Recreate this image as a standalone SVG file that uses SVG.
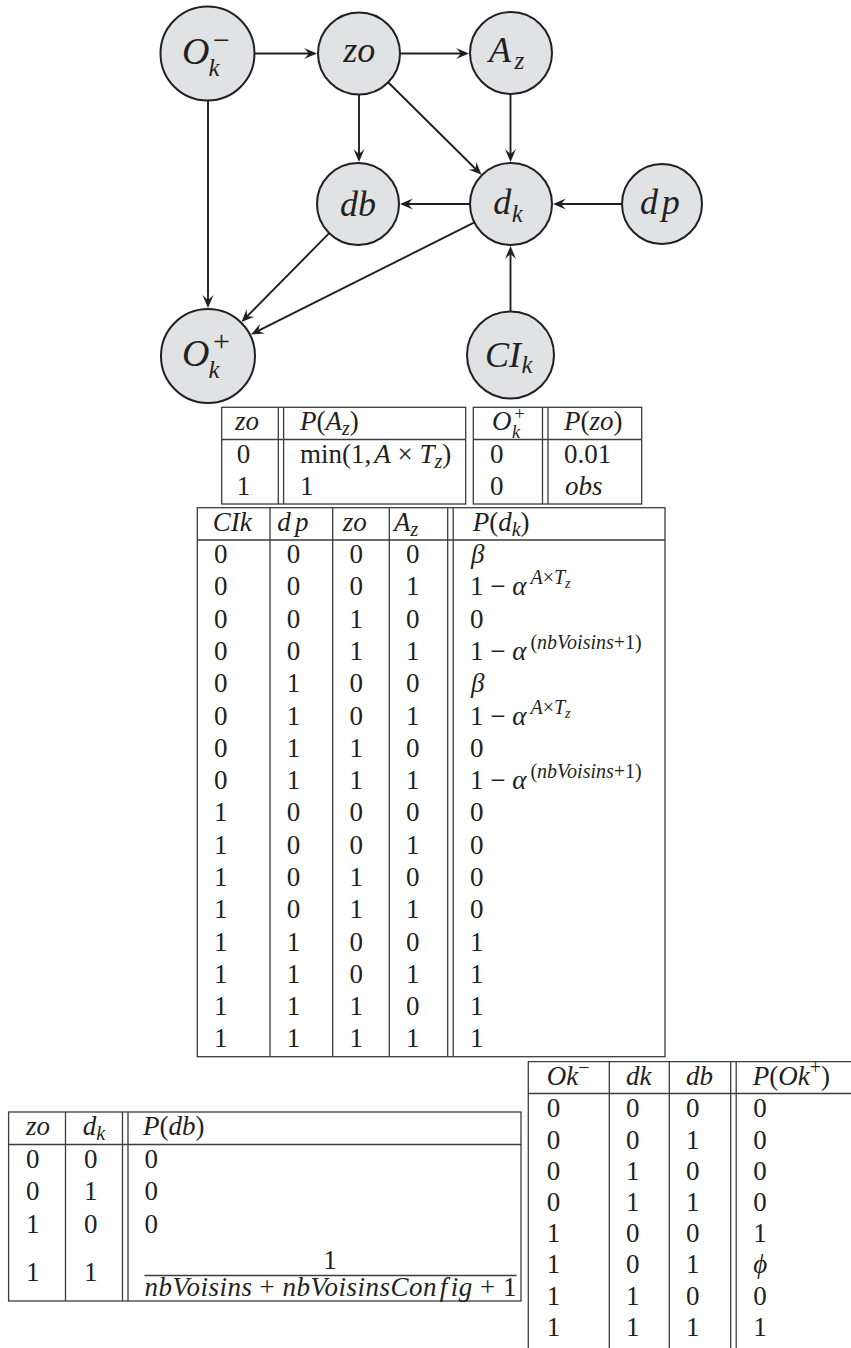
<svg xmlns="http://www.w3.org/2000/svg" width="851" height="1348" viewBox="0 0 851 1348" font-family="'Liberation Serif', 'Times New Roman', serif">
<defs>
<style>
text{font-family:"Liberation Serif","Times New Roman",serif;fill:#231f20}
.nl{font-size:36px;font-style:italic}
.nO{font-size:38px;font-style:italic}
.ns{font-size:25px;font-style:italic}
.nu{font-size:30px;font-style:normal}
.t text{font-size:27px}
.i{font-style:italic}
.t .s,.s{font-size:20px}
.t .ss,.ss{font-size:14px}
.t .sh{font-size:18px}
.nd{fill:#e1e2e4;stroke:#231f20;stroke-width:2}
.ed{stroke:#231f20;stroke-width:1.9;fill:none;marker-end:url(#ah)}
.tb{stroke:#3c3c3c;stroke-width:1.3;fill:none}
</style>
<marker id="ah" markerUnits="userSpaceOnUse" viewBox="-10 -7 15 14" refX="0" refY="0" markerWidth="15" markerHeight="14" orient="auto">
<path d="M4,0 L-9,-5.5 Q-5,-1.5 -4.5,0 Q-5,1.5 -9,5.5 Z" fill="#231f20"/>
</marker>
</defs>
<rect x="0" y="0" width="851" height="1348" fill="#ffffff"/>

<g id="connectors">
<path class="ed" d="M254.5,53.5 H313"/>
<path class="ed" d="M400,53.5 H465"/>
<path class="ed" d="M359,94.5 V158"/>
<path class="ed" d="M388.1,82.3 L478.7,172"/>
<path class="ed" d="M510.5,94 V158"/>
<path class="ed" d="M470,204 H404"/>
<path class="ed" d="M622,204 H557"/>
<path class="ed" d="M510.5,311.5 V250"/>
<path class="ed" d="M208,100.5 V304"/>
<path class="ed" d="M329.2,233.2 L244.3,319.2"/>
<path class="ed" d="M474.4,222.4 L254.6,332.7"/>
</g>

<g id="node-Okminus">
<circle class="nd" cx="207.5" cy="53.5" r="47"/>
<text><tspan class="nO" x="182" y="63.5">O</tspan><tspan class="ns" x="208.5" y="75.5">k</tspan><tspan class="nu" x="213" y="50">−</tspan></text>
</g>
<g id="node-zo">
<circle class="nd" cx="359" cy="53.5" r="41"/>
<text class="nl" x="343.3" y="62">zo</text>
</g>
<g id="node-Az">
<circle class="nd" cx="511" cy="53" r="41"/>
<text><tspan class="nl" x="489" y="62">A</tspan><tspan class="ns" x="514.5" y="68.5">z</tspan></text>
</g>
<g id="node-db">
<circle class="nd" cx="358" cy="204" r="41"/>
<text class="nl" x="340" y="216">db</text>
</g>
<g id="node-dk">
<circle class="nd" cx="511" cy="204" r="41"/>
<text><tspan class="nl" x="493.3" y="213.5">d</tspan><tspan class="ns" x="511.7" y="221.5">k</tspan></text>
</g>
<g id="node-dp">
<circle class="nd" cx="662" cy="204" r="40"/>
<text class="nl"><tspan x="640" y="213.5">d</tspan><tspan x="661.7" y="213.5">p</tspan></text>
</g>
<g id="node-Okplus">
<circle class="nd" cx="208" cy="356" r="47"/>
<text><tspan class="nO" x="182" y="365.5">O</tspan><tspan class="ns" x="208.5" y="378">k</tspan><tspan class="nu" x="213" y="351">+</tspan></text>
</g>
<g id="node-CIk">
<circle class="nd" cx="510.5" cy="355" r="43.5"/>
<text><tspan class="nl" x="485" y="366.5">CI</tspan><tspan class="ns" x="521.5" y="372.5">k</tspan></text>
</g>

<g id="table-PAz" class="t">
<rect class="tb" x="221.7" y="407.3" width="244" height="96.7"/>
<path class="tb" d="M221.7,439.5 H465.7 M278.3,407.3 V504 M283.6,407.3 V504"/>
<text x="235" y="430.3" class="i">zo</text>
<text x="300" y="430.3"><tspan class="i">P</tspan>(<tspan class="i">A</tspan><tspan class="s i" dy="5">z</tspan><tspan dy="-5">)</tspan></text>
<text x="236.7" y="462.5">0</text>
<text x="300" y="462.5">min(1,<tspan class="i" dx="3">A</tspan> × <tspan class="i">T</tspan><tspan class="s i" dy="5">z</tspan><tspan dy="-5">)</tspan></text>
<text x="236.7" y="494.8">1</text>
<text x="300" y="494.8">1</text>
</g>

<g id="table-Pzo" class="t">
<rect class="tb" x="473.3" y="407.3" width="168.4" height="96.7"/>
<path class="tb" d="M473.3,439.5 H641.7 M542.5,407.3 V504 M548,407.3 V504"/>
<text><tspan class="i" x="492" y="430.3">O</tspan><tspan class="sh" x="514.5" y="420">+</tspan><tspan class="sh i" x="512" y="438">k</tspan></text>
<text x="564" y="430.3"><tspan class="i">P</tspan>(<tspan class="i">zo</tspan>)</text>
<text x="490" y="462.5">0</text>
<text x="564" y="462.5">0.01</text>
<text x="490" y="494.8">0</text>
<text x="565" y="494.8" class="i">obs</text>
</g>

<g id="table-Pdk" class="t">
<rect class="tb" x="197.3" y="507.7" width="467.7" height="549"/>
<path class="tb" d="M197.3,540 H665 M270,507.7 V1056.7 M332.7,507.7 V1056.7 M389.3,507.7 V1056.7 M447.7,507.7 V1056.7 M453.2,507.7 V1056.7"/>
<text x="212.7" y="530.7" class="i">CIk</text>
<text class="i" y="530.7"><tspan x="277.3">d</tspan><tspan x="295">p</tspan></text>
<text x="342.7" y="530.7" class="i">zo</text>
<text x="394" y="530.7"><tspan class="i">A</tspan><tspan class="s i" dy="5">z</tspan></text>
<text x="472.7" y="530.7"><tspan class="i">P</tspan>(<tspan class="i">d</tspan><tspan class="s i" dy="5">k</tspan><tspan dy="-5">)</tspan></text>

<text x="214" y="563">0</text><text x="286.7" y="563">0</text><text x="349.4" y="563">0</text><text x="406" y="563">0</text><text x="471" y="563" class="i">β</text>
<text x="214" y="595.3">0</text><text x="286.7" y="595.3">0</text><text x="349.4" y="595.3">0</text><text x="406" y="595.3">1</text><text x="470" y="595.3">1 − <tspan class="i">α</tspan><tspan class="s i" dx="4" dy="-11">A</tspan><tspan class="s">×</tspan><tspan class="s i">T</tspan><tspan class="ss i" dy="4">z</tspan></text>
<text x="214" y="627.6">0</text><text x="286.7" y="627.6">0</text><text x="349.4" y="627.6">1</text><text x="406" y="627.6">0</text><text x="470" y="627.6">0</text>
<text x="214" y="659.9">0</text><text x="286.7" y="659.9">0</text><text x="349.4" y="659.9">1</text><text x="406" y="659.9">1</text><text x="470" y="659.9">1 − <tspan class="i">α</tspan><tspan class="s" dx="4" dy="-11">(<tspan class="i">nbVoisins</tspan>+1)</tspan></text>
<text x="214" y="692.2">0</text><text x="286.7" y="692.2">1</text><text x="349.4" y="692.2">0</text><text x="406" y="692.2">0</text><text x="471" y="692.2" class="i">β</text>
<text x="214" y="724.5">0</text><text x="286.7" y="724.5">1</text><text x="349.4" y="724.5">0</text><text x="406" y="724.5">1</text><text x="470" y="724.5">1 − <tspan class="i">α</tspan><tspan class="s i" dx="4" dy="-11">A</tspan><tspan class="s">×</tspan><tspan class="s i">T</tspan><tspan class="ss i" dy="4">z</tspan></text>
<text x="214" y="756.7">0</text><text x="286.7" y="756.7">1</text><text x="349.4" y="756.7">1</text><text x="406" y="756.7">0</text><text x="470" y="756.7">0</text>
<text x="214" y="789">0</text><text x="286.7" y="789">1</text><text x="349.4" y="789">1</text><text x="406" y="789">1</text><text x="470" y="789">1 − <tspan class="i">α</tspan><tspan class="s" dx="4" dy="-11">(<tspan class="i">nbVoisins</tspan>+1)</tspan></text>
<text x="214" y="821.3">1</text><text x="286.7" y="821.3">0</text><text x="349.4" y="821.3">0</text><text x="406" y="821.3">0</text><text x="470" y="821.3">0</text>
<text x="214" y="853.6">1</text><text x="286.7" y="853.6">0</text><text x="349.4" y="853.6">0</text><text x="406" y="853.6">1</text><text x="470" y="853.6">0</text>
<text x="214" y="885.9">1</text><text x="286.7" y="885.9">0</text><text x="349.4" y="885.9">1</text><text x="406" y="885.9">0</text><text x="470" y="885.9">0</text>
<text x="214" y="918.2">1</text><text x="286.7" y="918.2">0</text><text x="349.4" y="918.2">1</text><text x="406" y="918.2">1</text><text x="470" y="918.2">0</text>
<text x="214" y="950.5">1</text><text x="286.7" y="950.5">1</text><text x="349.4" y="950.5">0</text><text x="406" y="950.5">0</text><text x="470" y="950.5">1</text>
<text x="214" y="982.8">1</text><text x="286.7" y="982.8">1</text><text x="349.4" y="982.8">0</text><text x="406" y="982.8">1</text><text x="470" y="982.8">1</text>
<text x="214" y="1015.1">1</text><text x="286.7" y="1015.1">1</text><text x="349.4" y="1015.1">1</text><text x="406" y="1015.1">0</text><text x="470" y="1015.1">1</text>
<text x="214" y="1047.4">1</text><text x="286.7" y="1047.4">1</text><text x="349.4" y="1047.4">1</text><text x="406" y="1047.4">1</text><text x="470" y="1047.4">1</text>
</g>

<g id="table-Pdb" class="t">
<rect class="tb" x="8.6" y="1112" width="512.4" height="189"/>
<path class="tb" d="M8.6,1144.5 H521 M65.5,1112 V1301 M122.5,1112 V1301 M128,1112 V1301"/>
<text x="26" y="1135" class="i">zo</text>
<text x="82.8" y="1135"><tspan class="i">d</tspan><tspan class="s i" dy="5">k</tspan></text>
<text x="143" y="1135"><tspan class="i">P</tspan>(<tspan class="i">db</tspan>)</text>
<text x="26" y="1168">0</text><text x="84" y="1168">0</text><text x="144.6" y="1168">0</text>
<text x="26" y="1200.3">0</text><text x="84" y="1200.3">1</text><text x="144.6" y="1200.3">0</text>
<text x="26" y="1232.6">1</text><text x="84" y="1232.6">0</text><text x="144.6" y="1232.6">0</text>
<text x="26" y="1281">1</text><text x="84" y="1281">1</text>
<text x="330" y="1268.5" text-anchor="middle">1</text>
<path class="tb" d="M144.5,1275.5 H516.5"/>
<text x="144.5" y="1296" textLength="372" lengthAdjust="spacing"><tspan class="i">nbVoisins</tspan> + <tspan class="i">nbVoisinsCon</tspan><tspan class="i" dx="3">f</tspan><tspan class="i" dx="3">ig</tspan> + 1</text>
</g>

<g id="table-POk" class="t">
<path class="tb" d="M528.3,1348 V1061.7 H851 M528.3,1093.5 H851 M609.3,1061.7 V1348 M669.3,1061.7 V1348 M730.7,1061.7 V1348 M736.2,1061.7 V1348"/>
<text x="546.7" y="1084.7"><tspan class="i">Ok</tspan><tspan class="s" dy="-11">−</tspan></text>
<text x="626" y="1084.7" class="i">dk</text>
<text x="686" y="1084.7" class="i">db</text>
<text x="752.7" y="1084.7"><tspan class="i">P</tspan>(<tspan class="i">Ok</tspan><tspan class="s" dy="-11">+</tspan><tspan dy="11">)</tspan></text>
<text x="546.7" y="1117.3">0</text><text x="626" y="1117.3">0</text><text x="686" y="1117.3">0</text><text x="753.3" y="1117.3">0</text>
<text x="546.7" y="1148.5">0</text><text x="626" y="1148.5">0</text><text x="686" y="1148.5">1</text><text x="753.3" y="1148.5">0</text>
<text x="546.7" y="1179.7">0</text><text x="626" y="1179.7">1</text><text x="686" y="1179.7">0</text><text x="753.3" y="1179.7">0</text>
<text x="546.7" y="1210.9">0</text><text x="626" y="1210.9">1</text><text x="686" y="1210.9">1</text><text x="753.3" y="1210.9">0</text>
<text x="546.7" y="1242.1">1</text><text x="626" y="1242.1">0</text><text x="686" y="1242.1">0</text><text x="753.3" y="1242.1">1</text>
<text x="546.7" y="1273.3">1</text><text x="626" y="1273.3">0</text><text x="686" y="1273.3">1</text><text x="753.3" y="1273.3" class="i">ϕ</text>
<text x="546.7" y="1304.5">1</text><text x="626" y="1304.5">1</text><text x="686" y="1304.5">0</text><text x="753.3" y="1304.5">0</text>
<text x="546.7" y="1335.7">1</text><text x="626" y="1335.7">1</text><text x="686" y="1335.7">1</text><text x="753.3" y="1335.7">1</text>
</g>
</svg>
